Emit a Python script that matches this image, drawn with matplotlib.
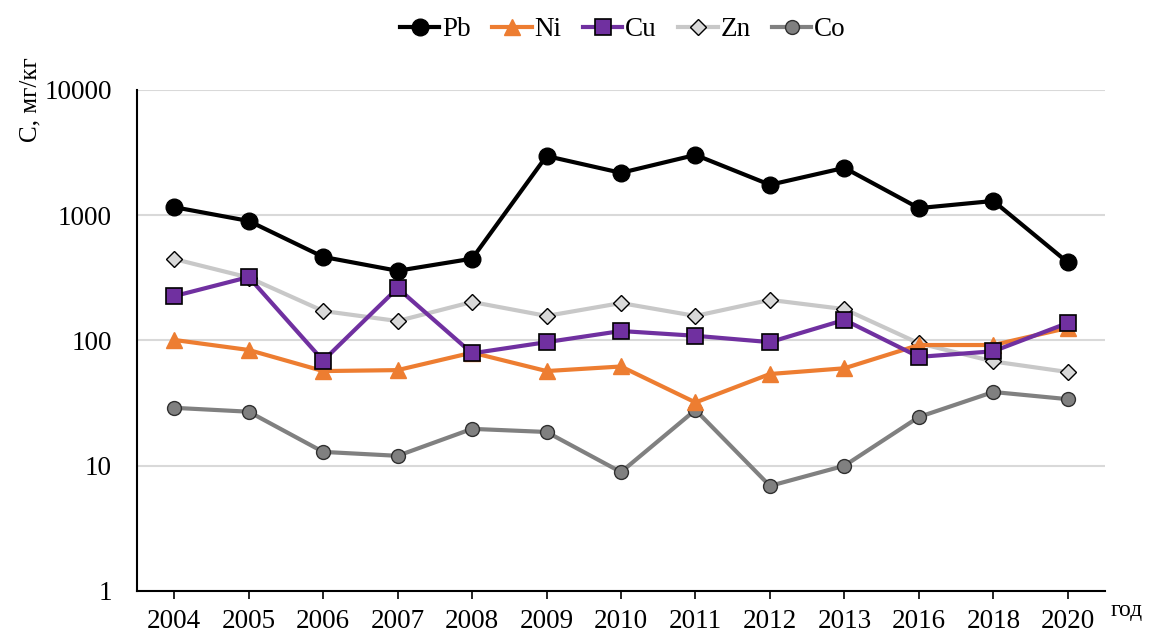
import matplotlib
matplotlib.use('Agg')
import matplotlib.pyplot as plt
import numpy as np

plt.rcParams['font.family'] = ['Liberation Serif', 'DejaVu Serif']

years = ['2004', '2005', '2006', '2007', '2008', '2009', '2010',
         '2011', '2012', '2013', '2016', '2018', '2020']
pb = [1160, 900, 465, 360, 450, 2970, 2180, 3030, 1750, 2390, 1140, 1300, 420]
ni = [101, 84, 57, 58, 80, 57, 62, 32, 54, 60, 92, 92, 126]
cu = [226, 321, 69, 262, 79, 97, 119, 109, 97, 146, 74, 82, 138]
zn = [447, 318, 172, 143, 203, 157, 199, 157, 211, 178, 95, 68, 56]
co = [29, 27, 12.9, 12, 19.7, 18.6, 8.9, 27.9, 6.9, 10, 24.5, 38.8, 34]

fig = plt.figure(figsize=(11.53, 6.35), dpi=100)
ax = fig.add_axes([0.1188, 0.0693, 0.8396, 0.789])
x = np.arange(len(years))

ax.plot(x, pb, color='black', lw=3, marker='o', ms=12, mfc='black', mec='black', label='Pb', zorder=5)
ax.plot(x, ni, color='#ED7D31', lw=3, marker='^', ms=11, mfc='#ED7D31', mec='#ED7D31', label='Ni', zorder=4)
ax.plot(x, cu, color='#7030A0', lw=3, marker='s', ms=11, mfc='#7030A0', mec='black', mew=1.2, label='Cu', zorder=4)
ax.plot(x, zn, color='#C8C8C8', lw=3, marker='D', ms=8, mfc='#D9D9D9', mec='black', mew=1.0, label='Zn', zorder=3)
ax.plot(x, co, color='#808080', lw=3, marker='o', ms=10, mfc='#808080', mec='#303030', mew=1.0, label='Co', zorder=3)

ax.set_yscale('log')
ax.set_ylim(1, 10000)
ax.set_xlim(-0.5, len(years) - 0.5)
ax.set_yticks([1, 10, 100, 1000, 10000])
ax.set_yticklabels(['1', '10', '100', '1000', '10000'])
ax.yaxis.set_minor_locator(matplotlib.ticker.NullLocator())
ax.set_xticks(x)
ax.set_xticklabels(years)
ax.tick_params(axis='y', length=0, labelsize=19.5, pad=18)
ax.tick_params(axis='x', length=6, width=1.2, direction='out', labelsize=19.5, pad=7)
ax.grid(axis='y', color='#D9D9D9', lw=1.5)
ax.set_axisbelow(True)
for s in ['top', 'right']:
    ax.spines[s].set_visible(False)
ax.spines['left'].set_linewidth(1.5)
ax.spines['bottom'].set_linewidth(1.5)

ax.set_ylabel('С, мг/кг', fontsize=18)
ax.yaxis.set_label_coords(-0.11, 0.98)
ax.yaxis.label.set_va('center')
fig.text(0.9635, 0.038, 'год', fontsize=17, ha='left', va='center')

ax.legend(loc='center', bbox_to_anchor=(0.502, 1.12), ncol=5, frameon=False,
          fontsize=19.5, handlelength=1.45, handletextpad=0.1, columnspacing=0.8)

fig.savefig('out.png', dpi=100)
